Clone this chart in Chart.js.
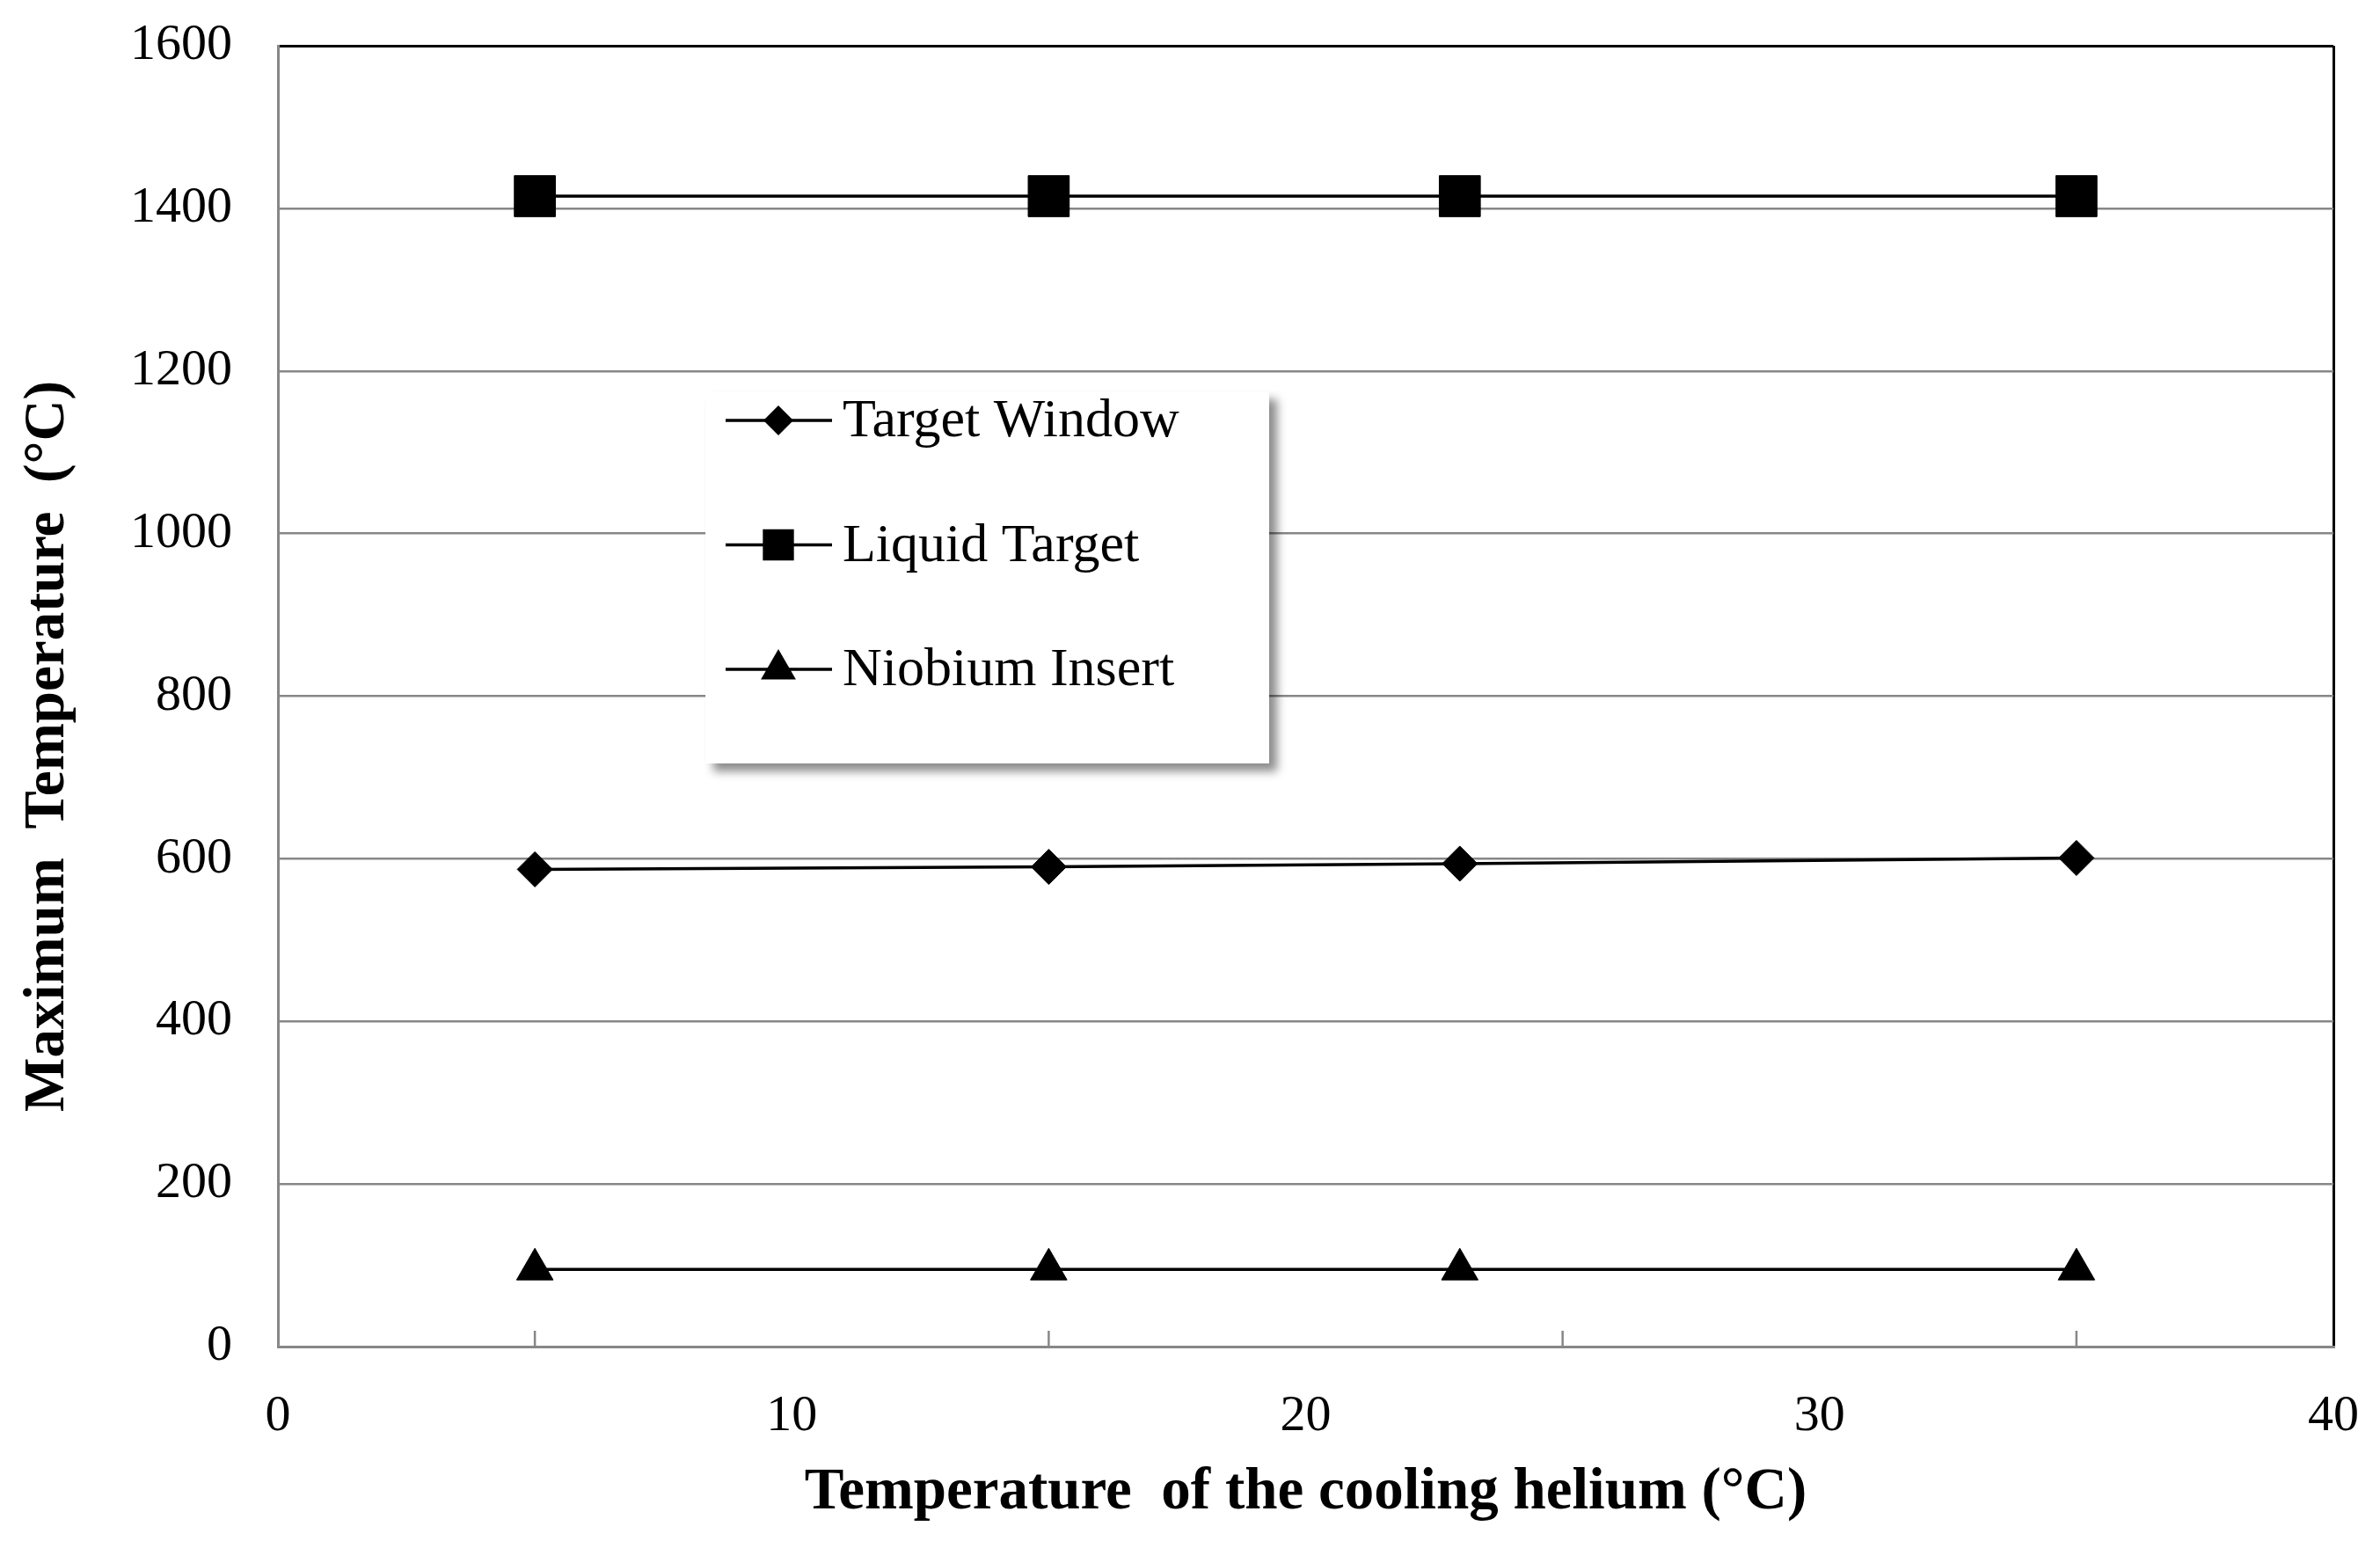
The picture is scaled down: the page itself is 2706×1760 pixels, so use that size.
<!DOCTYPE html>
<html>
<head>
<meta charset="utf-8">
<script src="https://cdn.jsdelivr.net/npm/chart.js@4.4.1/dist/chart.umd.min.js"></script>
<style>
  html, body { margin: 0; padding: 0; background: #fff; }
  #chart1 { display: block; }
</style>
</head>
<body>
<canvas id="chart1" width="2706" height="1760"></canvas>
<script>
// values
const heliumTemps = [5, 15, 23, 35];
const windowTemps = [587, 590, 594, 601];
const liquidTemps = [1415, 1415, 1415, 1415];
const niobiumTemps = [95, 95, 95, 95];
const seriesNames = ['Target Window', 'Liquid Target', 'Niobium Insert'];
const xRange = [0, 40, 10];
const yRange = [0, 1600, 200];
const innerTicks = [5, 15, 25, 35];

const gray = '#878787';
const serif = 'Liberation Serif';

function pts(ys) {
  let data = [];
  for (let i = 0; i < heliumTemps.length; i++) {
    data.push({ x: heliumTemps[i], y: ys[i] });
  }
  return data;
}

// small marker drawer for the legend box
function drawMarker(ctx, style, x, y, r) {
  ctx.beginPath();
  if (style === 'rect') {
    let s = r * Math.SQRT1_2;
    ctx.rect(x - s, y - s, 2 * s, 2 * s);
  } else if (style === 'rectRot') {
    ctx.moveTo(x - r, y); ctx.lineTo(x, y - r); ctx.lineTo(x + r, y); ctx.lineTo(x, y + r);
    ctx.closePath();
  } else {
    ctx.moveTo(x, y - r);
    ctx.lineTo(x + 0.866 * r, y + 0.5 * r);
    ctx.lineTo(x - 0.866 * r, y + 0.5 * r);
    ctx.closePath();
  }
  ctx.fill();
}

// legend sits inside the plot, with a drop shadow
const boxLegend = {
  id: 'boxLegend',
  afterDraw(chart) {
    const ctx = chart.ctx;
    const legendR = [17, 25, 23];
    ctx.save();
    ctx.shadowColor = 'rgba(0,0,0,0.45)';
    ctx.shadowBlur = 10;
    ctx.shadowOffsetX = 9;
    ctx.shadowOffsetY = 9;
    ctx.fillStyle = '#fff';
    ctx.fillRect(802, 445, 641, 423);
    ctx.restore();

    ctx.save();
    chart.data.datasets.forEach((ds, i) => {
      const y = 478 + i * 141.5;
      ctx.strokeStyle = '#000';
      ctx.lineWidth = 3.5;
      ctx.beginPath();
      ctx.moveTo(825, y);
      ctx.lineTo(946, y);
      ctx.stroke();
      ctx.fillStyle = '#000';
      drawMarker(ctx, ds.pointStyle, 885, y, legendR[i]);
      ctx.font = '62px "' + serif + '"';
      ctx.textBaseline = 'middle';
      ctx.textAlign = 'left';
      ctx.fillText(ds.label, 958, y + 2);
    });
    ctx.restore();
  }
};

// short inward tick marks on the x axis
const innerTickMarks = {
  id: 'innerTickMarks',
  afterDatasetsDraw(chart) {
    const ctx = chart.ctx;
    const xs = chart.scales.x;
    const bottom = chart.chartArea.bottom;
    ctx.save();
    ctx.strokeStyle = gray;
    ctx.lineWidth = 2.5;
    innerTicks.forEach(v => {
      const px = xs.getPixelForValue(v);
      ctx.beginPath();
      ctx.moveTo(px, bottom);
      ctx.lineTo(px, bottom - 18);
      ctx.stroke();
    });
    ctx.restore();
  }
};

Chart.defaults.color = '#000';
Chart.defaults.font.family = serif;

new Chart(document.getElementById('chart1'), {
  type: 'line',
  data: {
    datasets: [{
      label: seriesNames[0],
      data: pts(windowTemps),
      pointStyle: 'rectRot',
      pointRadius: 20
    }, {
      label: seriesNames[1],
      data: pts(liquidTemps),
      pointStyle: 'rect',
      pointRadius: 33
    }, {
      label: seriesNames[2],
      data: pts(niobiumTemps),
      pointStyle: 'triangle',
      pointRadius: 24
    }]
  },
  options: {
    responsive: false,
    animation: false,
    devicePixelRatio: 1,
    layout: { padding: { top: 52, right: 53, left: 0, bottom: 0 } },
    elements: {
      line: { borderColor: '#000', borderWidth: 3.5, tension: 0, fill: false },
      point: { backgroundColor: '#000', borderColor: '#000', borderWidth: 1, hoverRadius: 0 }
    },
    plugins: {
      legend: { display: false },
      tooltip: { enabled: false }
    },
    scales: {
      x: {
        type: 'linear',
        min: xRange[0],
        max: xRange[1],
        afterFit: s => { s.height = 229; s.paddingLeft = 0; s.paddingRight = 0; },
        ticks: { stepSize: xRange[2], padding: 45, font: { size: 58 }, callback: v => String(v) },
        grid: {
          drawTicks: false,
          lineWidth: 3,
          color: c => (c.tick && c.tick.value === xRange[1]) ? '#000' : 'rgba(0,0,0,0)'
        },
        border: { color: gray, width: 3 },
        title: {
          display: true,
          text: 'Temperature  of the cooling helium (°C)',
          font: { size: 67, weight: 'bold' },
          padding: { top: 0, bottom: 22 }
        }
      },
      y: {
        min: yRange[0],
        max: yRange[1],
        afterFit: s => { s.width = 316; s.paddingTop = 0; s.paddingBottom = 0; },
        ticks: { stepSize: yRange[2], padding: 52, font: { size: 58 }, callback: v => String(v) },
        grid: {
          drawTicks: false,
          lineWidth: c => (c.tick && c.tick.value === yRange[1]) ? 3 : 2.5,
          color: c => (c.tick && c.tick.value === yRange[1]) ? '#000' : gray
        },
        border: { color: gray, width: 3 },
        title: {
          display: true,
          text: 'Maximum  Temperature  (°C)\u00A0\u00A0\u00A0\u00A0\u00A0\u00A0\u00A0',
          font: { size: 65, weight: 'bold' },
          padding: { top: 16, bottom: 0 }
        }
      }
    }
  },
  plugins: [innerTickMarks, boxLegend]
});
</script>
</body>
</html>
